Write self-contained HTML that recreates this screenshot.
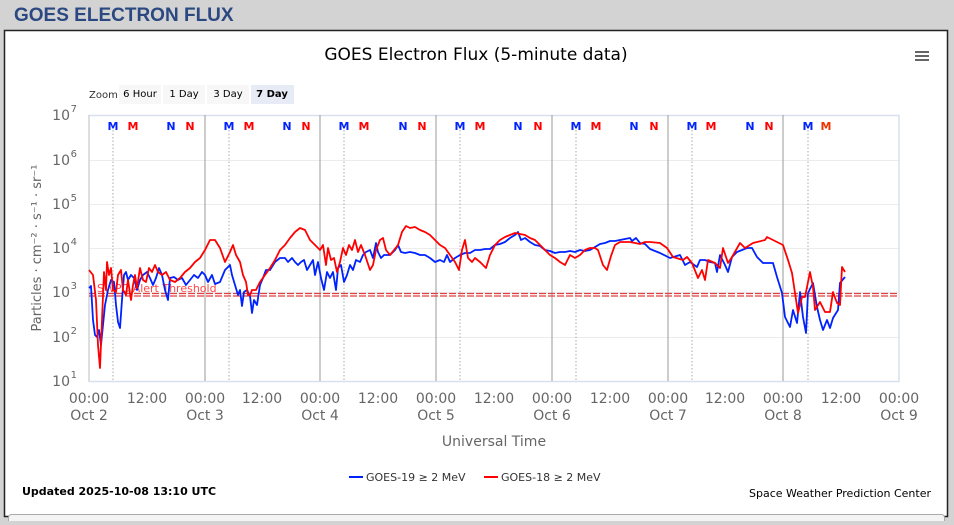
<!DOCTYPE html>
<html><head><meta charset="utf-8"><style>
body{margin:0;width:954px;height:521px;overflow:hidden;background:#d3d3d3;font-family:"DejaVu Sans","Liberation Sans",sans-serif;}
</style></head><body>
<svg width="954" height="521" xmlns="http://www.w3.org/2000/svg" font-family="DejaVu Sans, Liberation Sans, sans-serif">
<rect x="0" y="0" width="954" height="521" fill="#d3d3d3"/>
<text x="14" y="21" font-family="Liberation Sans, sans-serif" font-weight="bold" font-size="19" fill="#2b4880">GOES ELECTRON FLUX</text>
<rect x="4.5" y="30.5" width="943" height="486" fill="#fff" stroke="#222" stroke-width="1.5"/>
<rect x="8.5" y="514.5" width="936" height="12" rx="3" fill="#f4f4f4" stroke="#aaa"/>
<text x="476" y="60" text-anchor="middle" font-size="17" fill="#000">GOES Electron Flux (5-minute data)</text>
<g stroke="#666" stroke-width="2"><line x1="915" y1="52" x2="929" y2="52"/><line x1="915" y1="56" x2="929" y2="56"/><line x1="915" y1="60" x2="929" y2="60"/></g>
<text x="89" y="98" font-size="10" fill="#333">Zoom</text>
<rect x="119" y="85" width="42" height="19" fill="#f7f7f7"/><text x="140" y="97" text-anchor="middle" font-size="10">6 Hour</text>
<rect x="163" y="85" width="42" height="19" fill="#f7f7f7"/><text x="184" y="97" text-anchor="middle" font-size="10">1 Day</text>
<rect x="207" y="85" width="42" height="19" fill="#f7f7f7"/><text x="228" y="97" text-anchor="middle" font-size="10">3 Day</text>
<rect x="251" y="85" width="43" height="19" fill="#e6ebf5"/><text x="272" y="97" text-anchor="middle" font-size="10" font-weight="bold">7 Day</text>
<!-- grid -->
<g stroke="#ececec" stroke-width="1">
<line x1="89" y1="160.5" x2="899" y2="160.5"/><line x1="89" y1="204.5" x2="899" y2="204.5"/><line x1="89" y1="248.5" x2="899" y2="248.5"/><line x1="89" y1="292.5" x2="899" y2="292.5"/><line x1="89" y1="337.5" x2="899" y2="337.5"/>
</g>
<rect x="89" y="115.5" width="810" height="266" fill="none" stroke="#d8e0ee" stroke-width="1.5"/>
<g stroke="#aaa" stroke-width="1.2">
<line x1="205" y1="115" x2="205" y2="381"/><line x1="320" y1="115" x2="320" y2="381"/><line x1="436" y1="115" x2="436" y2="381"/><line x1="552" y1="115" x2="552" y2="381"/><line x1="668" y1="115" x2="668" y2="381"/><line x1="783" y1="115" x2="783" y2="381"/>
</g>
<g stroke="#aaa" stroke-width="1" stroke-dasharray="1.5,2">
<line x1="113" y1="130" x2="113" y2="381"/><line x1="229" y1="130" x2="229" y2="381"/><line x1="344" y1="130" x2="344" y2="381"/><line x1="460" y1="130" x2="460" y2="381"/><line x1="576" y1="130" x2="576" y2="381"/><line x1="692" y1="130" x2="692" y2="381"/><line x1="808" y1="130" x2="808" y2="381"/>
</g>
<line x1="89" y1="115" x2="89" y2="381" stroke="#ccc"/>
<g font-size="11" font-weight="bold" text-anchor="middle">
<g fill="#0022ff"><text x="113" y="130">M</text><text x="171" y="130">N</text><text x="229" y="130">M</text><text x="287" y="130">N</text><text x="344" y="130">M</text><text x="403" y="130">N</text><text x="460" y="130">M</text><text x="518" y="130">N</text><text x="576" y="130">M</text><text x="634" y="130">N</text><text x="692" y="130">M</text><text x="750" y="130">N</text><text x="808" y="130">M</text></g>
<g fill="#ff0000"><text x="133" y="130">M</text><text x="190" y="130">N</text><text x="249" y="130">M</text><text x="306" y="130">N</text><text x="364" y="130">M</text><text x="422" y="130">N</text><text x="480" y="130">M</text><text x="538" y="130">N</text><text x="596" y="130">M</text><text x="654" y="130">N</text><text x="711" y="130">M</text><text x="769" y="130">N</text><text x="826" y="130" fill="#ee3300">M</text></g>
</g>
<!-- threshold -->
<line x1="89" y1="293.5" x2="899" y2="293.5" stroke="#e04040" stroke-width="1.3" stroke-dasharray="7,2"/>
<line x1="89" y1="296" x2="899" y2="296" stroke="#e04040" stroke-width="1.3" stroke-dasharray="7,2"/>
<text x="97" y="292" font-size="11" fill="#ff3333" opacity="0.9">SWPC Alert Threshold</text>
<!-- series -->
<polyline fill="none" stroke="#0022ff" stroke-width="1.8" stroke-linejoin="round" points="89,288 91,286 93,320 95,335 97,337 99,330 101,345 103,325 105,305 108,290 111,280 114,282 116,305 118,322 120,328 122,300 124,275 126,272 128,280 131,275 134,278 137,290 140,280 143,275 147,272 150,278 153,285 156,278 159,268 162,275 165,290 168,300 170,278 174,277 178,280 182,278 186,285 190,280 194,275 198,278 202,272 205,275 208,282 212,275 215,284 220,282 225,270 230,265 232,275 235,285 238,295 240,290 242,306 244,292 247,290 250,296 252,313 254,300 257,305 260,285 263,278 266,270 270,270 275,262 280,258 285,258 288,262 292,258 295,262 298,265 301,262 304,260 307,270 310,265 313,260 315,275 318,262 321,278 324,290 327,272 330,278 333,272 336,290 338,268 341,265 344,282 347,275 350,265 353,270 356,260 360,262 363,255 366,252 370,250 373,258 376,243 378,252 381,258 384,255 390,255 395,250 398,245 401,252 405,253 410,252 415,253 420,255 425,255 430,258 435,262 440,260 444,262 447,255 450,262 455,258 460,255 465,253 470,253 475,250 480,250 485,249 490,249 495,245 500,244 505,242 510,238 515,235 518,232 521,240 525,238 530,242 535,245 540,246 545,250 550,251 555,253 560,252 565,252 570,251 575,252 580,250 585,251 590,250 595,247 600,244 605,243 610,241 615,241 620,240 625,239 630,238 632,241 636,238 640,243 645,244 650,249 660,253 670,258 680,255 685,265 690,262 697,267 700,260 705,260 710,262 715,263 717,272 720,255 725,265 728,272 732,257 737,252 747,248 752,248 757,257 763,263 773,263 777,277 782,293 785,317 790,327 793,310 797,323 800,292 803,317 806,333 808,293 813,283 817,307 820,320 823,330 827,320 830,328 833,318 838,310 840,283 845,277"/>
<polyline fill="none" stroke="#ff0000" stroke-width="1.8" stroke-linejoin="round" points="89,270 93,275 96,300 98,345 100,368 102,320 104,272 106,290 107,262 109,275 111,268 113,290 116,292 118,275 121,270 123,290 126,295 128,280 131,300 133,285 135,275 137,288 140,268 143,280 146,282 149,268 152,272 155,265 158,272 162,275 166,272 170,280 175,282 180,278 185,272 190,268 195,262 200,258 205,250 210,240 215,240 220,248 225,262 230,252 233,245 236,255 240,262 243,275 246,282 248,295 250,295 252,290 256,290 260,282 265,275 270,268 275,260 280,250 285,245 290,238 295,232 300,228 305,230 310,240 315,245 320,250 323,245 326,265 328,248 331,260 334,258 337,272 340,262 343,248 346,255 349,245 352,250 355,240 358,252 361,245 365,255 370,270 373,265 376,250 380,240 383,238 386,250 390,255 394,250 398,245 402,232 406,226 410,228 415,227 420,230 425,232 430,235 435,240 440,245 445,248 450,255 455,262 459,270 462,250 465,240 468,258 472,262 475,258 480,262 486,268 490,255 495,245 500,240 505,237 510,235 515,233 520,234 525,235 530,238 535,240 540,245 545,250 550,255 555,258 560,262 565,265 570,255 575,258 580,255 585,250 590,248 595,248 598,250 603,265 607,270 611,256 615,245 620,242 625,242 630,242 635,243 640,244 645,242 650,242 660,243 667,248 673,257 683,260 687,257 692,263 698,278 702,270 705,280 708,260 715,263 720,268 723,248 728,263 732,257 740,243 745,248 753,243 765,240 767,237 777,242 783,245 788,260 792,273 795,293 798,313 802,297 805,297 807,287 810,272 813,287 815,310 820,302 825,312 830,312 833,292 837,303 840,305 842,267 845,272"/>
<!-- y axis labels -->
<g font-size="14" fill="#666" text-anchor="end">
<text x="70" y="120">10</text><text x="77" y="112" font-size="10">7</text>
<text x="70" y="165">10</text><text x="77" y="157" font-size="10">6</text>
<text x="70" y="209">10</text><text x="77" y="201" font-size="10">5</text>
<text x="70" y="253">10</text><text x="77" y="245" font-size="10">4</text>
<text x="70" y="297">10</text><text x="77" y="289" font-size="10">3</text>
<text x="70" y="342">10</text><text x="77" y="334" font-size="10">2</text>
<text x="70" y="386">10</text><text x="77" y="378" font-size="10">1</text>
</g>
<text transform="translate(41,248) rotate(-90)" text-anchor="middle" font-size="13" fill="#666">Particles · cm⁻² · s⁻¹ · sr⁻¹</text>
<g font-size="14" fill="#666" text-anchor="middle">
<text x="89" y="403">00:00</text><text x="147" y="403">12:00</text><text x="205" y="403">00:00</text><text x="262" y="403">12:00</text><text x="320" y="403">00:00</text><text x="378" y="403">12:00</text><text x="436" y="403">00:00</text><text x="494" y="403">12:00</text><text x="552" y="403">00:00</text><text x="610" y="403">12:00</text><text x="668" y="403">00:00</text><text x="725" y="403">12:00</text><text x="783" y="403">00:00</text><text x="841" y="403">12:00</text><text x="899" y="403">00:00</text>
<text x="89" y="420">Oct 2</text><text x="205" y="420">Oct 3</text><text x="320" y="420">Oct 4</text><text x="436" y="420">Oct 5</text><text x="552" y="420">Oct 6</text><text x="668" y="420">Oct 7</text><text x="783" y="420">Oct 8</text><text x="899" y="420">Oct 9</text>
<text x="494" y="446">Universal Time</text>
</g>
<line x1="349" y1="477" x2="363" y2="477" stroke="#0022ff" stroke-width="2"/>
<text x="366" y="481" font-size="11" fill="#333">GOES-19 ≥ 2 MeV</text>
<line x1="484" y1="477" x2="498" y2="477" stroke="#ff0000" stroke-width="2"/>
<text x="501" y="481" font-size="11" fill="#333">GOES-18 ≥ 2 MeV</text>
<text x="22" y="495" font-size="11" font-weight="bold" fill="#000">Updated 2025-10-08 13:10 UTC</text>
<text x="931" y="497" font-size="11" fill="#000" text-anchor="end">Space Weather Prediction Center</text>
</svg>
</body></html>
